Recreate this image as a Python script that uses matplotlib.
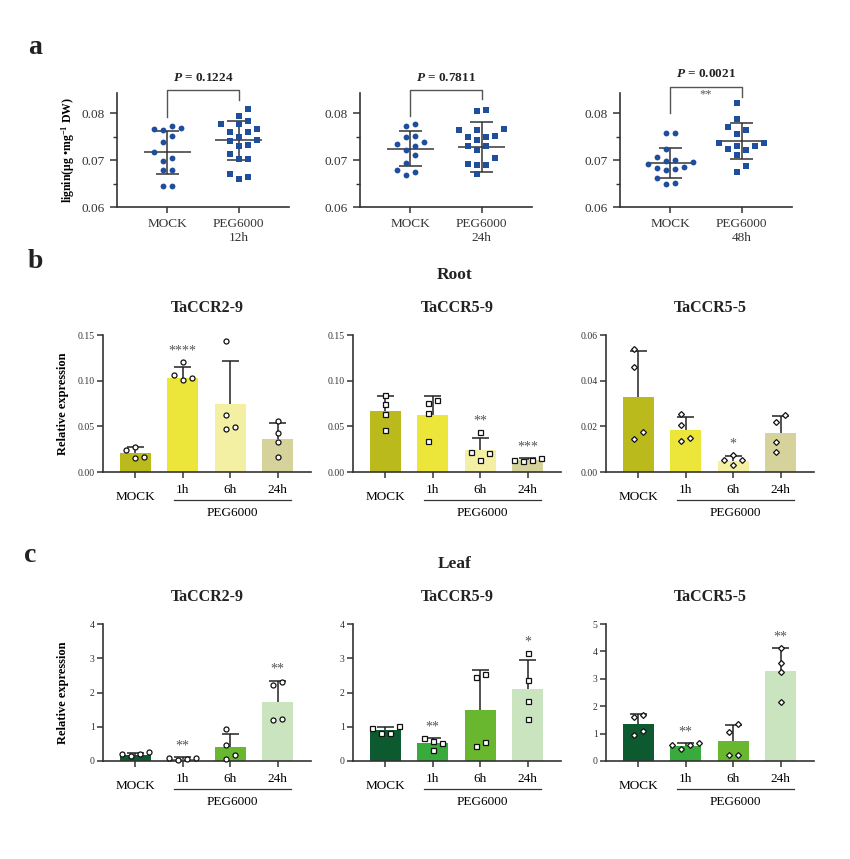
import numpy as np
import matplotlib
matplotlib.use('Agg')
import matplotlib.pyplot as plt
from matplotlib.ticker import FormatStrFormatter, MultipleLocator

plt.rcParams['font.family'] = ['Liberation Serif', 'DejaVu Serif']
plt.rcParams['mathtext.fontset'] = 'custom'
plt.rcParams['mathtext.rm'] = 'Liberation Serif:bold'
plt.rcParams['mathtext.it'] = 'Liberation Serif:italic:bold'
plt.rcParams['mathtext.bf'] = 'Liberation Serif:bold'

# ---- panel a: lignin content ----
LIG_TIMES = ["12h", "24h", "48h"]
LIG_P = ["0.1224", "0.7811", "0.0021"]
LIG_SIG = ["", "", "**"]
LIG_MOCK_12H = [0.0772, 0.0765, 0.0767, 0.0769, 0.0752, 0.0738, 0.0717, 0.0699,
                0.0704, 0.0679, 0.0678, 0.0644, 0.0645]
LIG_PEG_12H = [0.0808, 0.0795, 0.0783, 0.0776, 0.0776, 0.0766, 0.0760, 0.0760,
               0.0749, 0.0743, 0.0740, 0.0732, 0.0730, 0.0713, 0.0703, 0.0703,
               0.0671, 0.0665, 0.0660]
LIG_MOCK_24H = [0.0772, 0.0777, 0.0750, 0.0752, 0.0730, 0.0735, 0.0738, 0.0721,
                0.0711, 0.0694, 0.0679, 0.0674, 0.0669]
LIG_PEG_24H = [0.0805, 0.0806, 0.0765, 0.0767, 0.0765, 0.0749, 0.0750, 0.0752,
               0.0743, 0.0729, 0.0731, 0.0721, 0.0705, 0.0692, 0.0689, 0.0690, 0.0671]
LIG_MOCK_48H = [0.0757, 0.0757, 0.0723, 0.0701, 0.0706, 0.0695, 0.0697, 0.0692,
                0.0682, 0.0683, 0.0678, 0.0685, 0.0662, 0.0648, 0.0651]
LIG_PEG_48H = [0.0821, 0.0788, 0.0765, 0.0770, 0.0756, 0.0730, 0.0736, 0.0736,
               0.0729, 0.0721, 0.0724, 0.0710, 0.0687, 0.0674]
LIG_MEAN = [[0.0717, 0.0742], [0.0724, 0.0728], [0.0694, 0.0740]]
LIG_SD = [[0.0046, 0.0042], [0.0037, 0.0054], [0.0032, 0.0038]]

# ---- panels b, c: relative expression ----
GROUPS = ["MOCK", "1h", "6h", "24h"]
GENES = ["TaCCR2-9", "TaCCR5-9", "TaCCR5-5"]

ROOT_MEAN = [[0.0212, 0.1032, 0.0750, 0.0366],
             [0.0666, 0.0626, 0.0244, 0.0135],
             [0.0329, 0.0185, 0.0050, 0.0170]]
ROOT_SD = [[0.0059, 0.0117, 0.0465, 0.0168],
           [0.0171, 0.0204, 0.0131, 0.0018],
           [0.0201, 0.0057, 0.0020, 0.0076]]
ROOT_POINTS = [
    [[0.0157, 0.0245, 0.0274, 0.0165], [0.1207, 0.1061, 0.1024, 0.1006],
     [0.1434, 0.0622, 0.0468, 0.0490], [0.0556, 0.0432, 0.0333, 0.0165]],
    [[0.0848, 0.0746, 0.0630, 0.0455], [0.0790, 0.0754, 0.0648, 0.0335],
     [0.0433, 0.0208, 0.0215, 0.0127], [0.0120, 0.0157, 0.0127, 0.0135]],
    [[0.0540, 0.0460, 0.0176, 0.0143], [0.0256, 0.0205, 0.0137, 0.0151],
     [0.0074, 0.0051, 0.0054, 0.0031], [0.0248, 0.0220, 0.0133, 0.0086]],
]
ROOT_SIG = [["", "****", "", ""], ["", "", "**", "***"], ["", "", "*", ""]]

LEAF_MEAN = [[0.176, 0.068, 0.41, 1.727],
             [0.898, 0.517, 1.49, 2.107],
             [1.335, 0.546, 0.728, 3.277]]
LEAF_SD = [[0.048, 0.039, 0.39, 0.623],
           [0.107, 0.166, 1.154, 0.839],
           [0.365, 0.121, 0.582, 0.861]]
LEAF_POINTS = [
    [[0.146, 0.254, 0.215, 0.195], [0.030, 0.078, 0.059, 0.078],
     [0.927, 0.478, 0.176, 0.059], [2.31, 2.23, 1.19, 1.23]],
    [[0.81, 0.956, 1.024, 0.81], [0.683, 0.517, 0.576, 0.322],
     [2.449, 2.537, 0.566, 0.44], [3.15, 2.351, 1.746, 1.22]],
    [[1.614, 1.687, 0.934, 1.092], [0.667, 0.595, 0.57, 0.437],
     [1.36, 1.07, 0.23, 0.23], [4.138, 3.59, 3.265, 2.148]],
]
LEAF_SIG = [["", "**", "", "**"], ["", "**", "", "*"], ["", "**", "", "**"]]

# ---- style / layout ----
W, H, DPI = 850, 859, 100
BLUE = '#1f4e9d'
AX_COLOR = '#333333'
ROOT_COLORS = ['#BABA1C', '#EDE63A', '#F3EFA3', '#D5D39B']
LEAF_COLORS = ['#0E5A30', '#39AA3C', '#68B72E', '#CAE4C0']
MARKERS = ['o', 's', 'D']
ROOT_YMAX = [0.15, 0.15, 0.06]
ROOT_YSTEP = [0.05, 0.05, 0.02]
LEAF_YMAX = [4, 4, 5]
A_LEFT = [117, 360, 620]
BC_LEFT = [103, 353, 606]
BRACKET_TOP = [0.0849, 0.0849, 0.0855]
BRACKET_LEGS = [(0.0791, 0.0828), (0.0794, 0.0830), (0.0800, 0.0834)]
P_TEXT_Y = [0.0875, 0.0875, 0.0883]


def px_rect(left, top, width, height):
    return [left / W, 1 - (top + height) / H, width / W, height / H]


def swarm(ax, values, spacing=9.0):
    """Beeswarm x offsets (data units) computed from the axes pixel scale."""
    bb = ax.get_position()
    w_px, h_px = bb.width * W, bb.height * H
    x0, x1 = ax.get_xlim()
    y0, y1 = ax.get_ylim()
    sx = w_px / (x1 - x0)
    ys = np.asarray(values, dtype=float) * h_px / (y1 - y0)
    cand = [0]
    for k in range(1, 10):
        cand += [k, -k]
    offs = np.zeros(len(ys))
    placed = []
    for i in np.argsort(ys):
        for c in cand:
            cx = c * spacing
            if all((cx - px) ** 2 + (ys[i] - py) ** 2 >= (spacing * 0.95) ** 2
                   for px, py in placed):
                break
        placed.append((cx, ys[i]))
        offs[i] = cx
    offs -= (offs.max() + offs.min()) / 2
    return offs / sx


def style_axes(ax):
    for s in ('top', 'right'):
        ax.spines[s].set_visible(False)
    for s in ('left', 'bottom'):
        ax.spines[s].set_linewidth(1.2)
        ax.spines[s].set_color(AX_COLOR)
    ax.tick_params(colors=AX_COLOR, width=1.1)


def draw_lignin(fig, i):
    ax = fig.add_axes(px_rect(A_LEFT[i], 93, 172, 114))
    style_axes(ax)
    ax.set_xlim(-0.7, 1.7)
    ax.set_ylim(0.06, 0.0843)
    groups = [(LIG_MOCK_12H, LIG_PEG_12H), (LIG_MOCK_24H, LIG_PEG_24H),
              (LIG_MOCK_48H, LIG_PEG_48H)][i]
    for j, (vals, mk) in enumerate(zip(groups, ('o', 's'))):
        off = swarm(ax, vals)
        ax.plot(j + off, vals, mk, color=BLUE, ms=4.2 if mk == 'o' else 4.0,
                mew=0, zorder=3, clip_on=False)
        m, s = LIG_MEAN[i][j], LIG_SD[i][j]
        ax.hlines(m, j - 0.33, j + 0.33, color='#555555', lw=1.3, zorder=2)
        ax.vlines(j, m - s, m + s, color='#333333', lw=1.1, zorder=2)
        ax.hlines([m - s, m + s], j - 0.16, j + 0.16, color='#333333', lw=1.1, zorder=2)

    top = BRACKET_TOP[i]
    leg_l, leg_r = BRACKET_LEGS[i]
    ax.plot([0, 0, 1, 1], [leg_l, top, top, leg_r], color='#555555', lw=1.0,
            clip_on=False)
    ax.text(0.5, P_TEXT_Y[i], r'$P$ = ' + LIG_P[i], ha='center', va='center',
            fontsize=9.5, fontweight='bold', color='#222222')
    if LIG_SIG[i]:
        ax.text(0.5, top - 0.0003, LIG_SIG[i], ha='center', va='top',
                fontsize=9, color='#555555')

    ax.set_xticks([0, 1])
    ax.set_xticklabels(['MOCK', 'PEG6000\n' + LIG_TIMES[i]], fontsize=9.5,
                       linespacing=1.25)
    ax.set_yticks([0.06, 0.07, 0.08])
    ax.yaxis.set_minor_locator(MultipleLocator(0.005))
    ax.yaxis.set_major_formatter(FormatStrFormatter('%.2f'))
    ax.tick_params(axis='y', labelsize=9.5, length=5)
    ax.tick_params(axis='y', which='minor', length=3, width=1.0, colors=AX_COLOR)
    ax.tick_params(axis='x', length=4, pad=4)
    if i == 0:
        ax.set_ylabel(r'lignin(μg •mg$^{\mathbf{-1}}$ DW)', fontsize=8.5,
                      fontweight='bold')
        ax.yaxis.set_label_coords(-0.235, 0.5)


def draw_expression(fig, left, top, gene, means, sds, points, sig, colors,
                    marker, ymax, ystep, fmt, ylabel):
    ax = fig.add_axes(px_rect(left, top, 208, 137))
    style_axes(ax)
    x = np.arange(len(GROUPS))
    means = np.asarray(means)
    sds = np.asarray(sds)
    ax.set_xlim(-0.68, 3.7)
    ax.set_ylim(0, ymax)
    ax.bar(x, means, width=0.66, color=colors, zorder=1)
    ax.vlines(x, means, means + sds, color='#222222', lw=1.1, zorder=2)
    ax.hlines(means + sds, x - 0.18, x + 0.18, color='#222222', lw=1.1, zorder=2)
    for k in x:
        pts = points[k]
        off = swarm(ax, pts)
        ax.plot(k + off, pts, marker, mfc='white', mec='#111111',
                ms=3.6 if marker != 'D' else 3.0, mew=0.9, zorder=3, clip_on=False)
        if sig[k]:
            y = max(means[k] + sds[k], max(pts))
            ax.annotate(sig[k], (k, y), xytext=(0, 11), textcoords='offset pixels',
                        ha='center', va='center', fontsize=10, color='#555555')

    ax.set_xticks(x)
    ax.set_xticklabels([])
    ax.tick_params(axis='x', length=4)
    ax.yaxis.set_major_locator(MultipleLocator(ystep))
    ax.yaxis.set_major_formatter(FormatStrFormatter(fmt))
    ax.tick_params(axis='y', labelsize=7, length=4, pad=2)

    tr = ax.get_xaxis_transform()
    ax.text(0, -0.18, GROUPS[0], transform=tr, ha='center', va='center', fontsize=9.5)
    for k in range(1, len(GROUPS)):
        ax.text(k, -0.131, GROUPS[k], transform=tr, ha='center', va='center',
                fontsize=9.5)
    ax.plot([0.82, 3.28], [-0.205, -0.205], transform=tr, color='#333333',
            lw=0.9, clip_on=False)
    ax.text(2.05, -0.30, 'PEG6000', transform=tr, ha='center', va='center',
            fontsize=9.5)
    ax.text(0.5, 1 + 27 / 137, gene, transform=ax.transAxes, ha='center',
            va='center', fontsize=11.5, fontweight='bold', color='#222222')
    if ylabel:
        ax.set_ylabel('Relative expression', fontsize=9, fontweight='bold')
        ax.yaxis.set_label_coords(-0.165, 0.5)


def main():
    fig = plt.figure(figsize=(W / DPI, H / DPI), dpi=DPI)

    fig.text(28 / W, 1 - 48 / H, 'a', fontsize=20, fontweight='bold',
             ha='left', va='center', color='#222222')
    fig.text(28 / W, 1 - 262 / H, 'b', fontsize=20, fontweight='bold',
             ha='left', va='center', color='#222222')
    fig.text(24 / W, 1 - 556 / H, 'c', fontsize=20, fontweight='bold',
             ha='left', va='center', color='#222222')
    fig.text(455 / W, 1 - 275 / H, 'Root', fontsize=12.5, fontweight='bold',
             ha='center', va='center', color='#222222')
    fig.text(455 / W, 1 - 564 / H, 'Leaf', fontsize=12.5, fontweight='bold',
             ha='center', va='center', color='#222222')

    for i in range(3):
        draw_lignin(fig, i)

    for g in range(3):
        draw_expression(fig, BC_LEFT[g], 335, GENES[g], ROOT_MEAN[g], ROOT_SD[g],
                        ROOT_POINTS[g], ROOT_SIG[g], ROOT_COLORS, MARKERS[g],
                        ROOT_YMAX[g], ROOT_YSTEP[g], '%.2f', g == 0)
        draw_expression(fig, BC_LEFT[g], 624, GENES[g], LEAF_MEAN[g], LEAF_SD[g],
                        LEAF_POINTS[g], LEAF_SIG[g], LEAF_COLORS, MARKERS[g],
                        LEAF_YMAX[g], 1, '%d', g == 0)

    fig.savefig('out.png', dpi=DPI)
    print("saved out.png")


if __name__ == "__main__":
    main()
